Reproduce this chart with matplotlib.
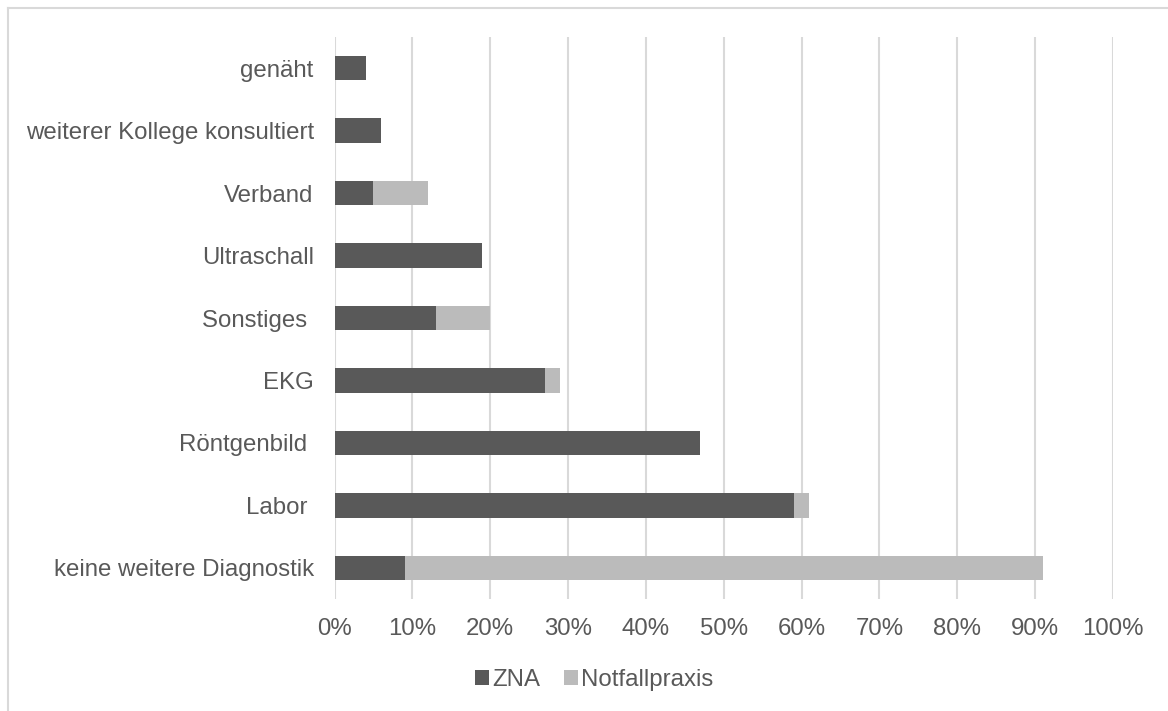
import matplotlib
matplotlib.use("Agg")
import matplotlib.pyplot as plt
from matplotlib.lines import Line2D
from matplotlib.ticker import PercentFormatter

# categories from bottom to top (some labels carry a trailing space, as in the source)
categories = ["keine weitere Diagnostik", "Labor ", "Röntgenbild ", "EKG", "Sonstiges ",
              "Ultraschall", "Verband", "weiterer Kollege konsultiert", "genäht"]
zna = [9, 59, 47, 27, 13, 19, 5, 6, 4]
notfallpraxis = [82, 2, 0, 2, 7, 0, 7, 0, 0]
series_names = ["ZNA", "Notfallpraxis"]

dark = "#595959"
light = "#bbbbbb"
text_col = "#595959"
grid_col = "#d9d9d9"
fs = 17.3

plt.rcParams["font.family"] = ["Liberation Sans", "DejaVu Sans"]

W, H = 1168, 711
fig = plt.figure(figsize=(W / 100, H / 100), dpi=100)
ax = fig.add_axes([334.5 / W, 1 - 599 / H, (1113 - 334.5) / W, (599 - 37) / H])

y = list(range(len(categories)))
ax.barh(y, zna, height=0.39, color=dark, label=series_names[0], zorder=3)
ax.barh(y, notfallpraxis, left=zna, height=0.39, color=light, label=series_names[1], zorder=3)

ax.set_xlim(0, 100)
ax.set_ylim(-0.5, len(categories) - 0.5)
ax.set_xticks(range(0, 101, 10))
ax.xaxis.set_major_formatter(PercentFormatter(decimals=0))
ax.set_yticks(y)
ax.set_yticklabels(categories)
ax.tick_params(axis="both", length=0, labelsize=fs, labelcolor=text_col)
ax.tick_params(axis="y", pad=15)
ax.tick_params(axis="x", pad=14)
ax.grid(axis="x", color=grid_col, linewidth=1.5, zorder=0)
for s in ax.spines.values():
    s.set_visible(False)

leg = fig.legend(loc="center", bbox_to_anchor=(594 / W, 1 - 680 / H), ncol=2, frameon=False,
                 fontsize=fs, handlelength=0.6, handleheight=0.6, handletextpad=0.12,
                 columnspacing=1.0, labelcolor=text_col)

# chart area border (only top and left visible in the crop)
fig.add_artist(Line2D([7.5 / W, 1], [1 - 7.5 / H, 1 - 7.5 / H], color=grid_col, linewidth=1.5))
fig.add_artist(Line2D([7.5 / W, 7.5 / W], [0, 1 - 7.5 / H], color=grid_col, linewidth=1.5))

fig.savefig("out.png", dpi=100, facecolor="white")
